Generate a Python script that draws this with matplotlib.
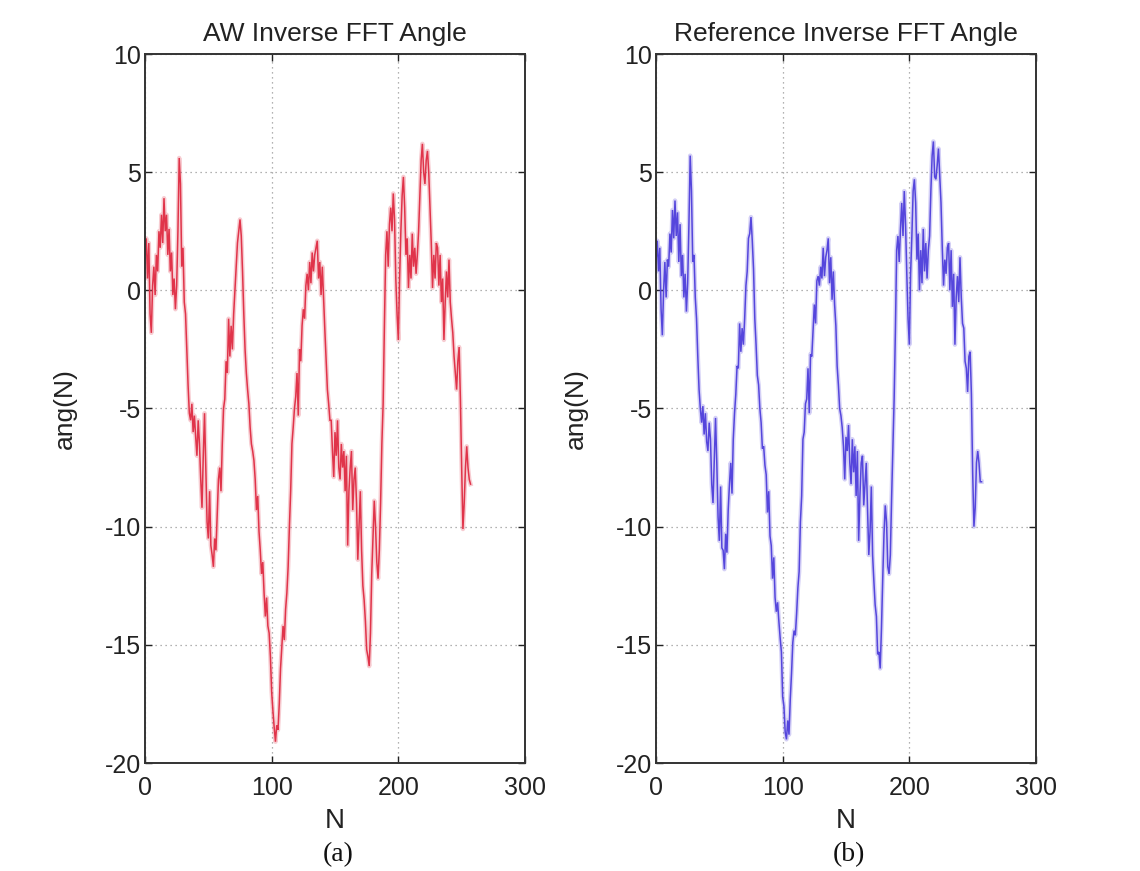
import matplotlib
matplotlib.use("Agg")
import matplotlib.pyplot as plt
import numpy as np

plt.rcParams['font.family'] = ['Liberation Sans', 'DejaVu Sans']

# ---- data ----
N = list(range(0, 258))

aw_angle = [
    1.5, 2.2, 0.5, 2.0, -1.0, -1.8, 0.2, 1.0, -0.2, 1.5,
    0.8, 2.5, 1.8, 3.2, 2.0, 3.9, 2.5, 3.2, 1.5, 2.6,
    0.8, 1.6, -0.2, 0.5, -0.8, 0.2, 2.5, 5.6, 4.5, 1.0,
    1.8, -0.5, -1.0, -2.5, -4.0, -5.2, -5.5, -4.8, -6.0, -5.3,
    -6.2, -7.0, -5.5, -6.5, -8.0, -9.2, -7.0, -5.2, -7.5, -9.8,
    -10.5, -8.5, -10.8, -11.2, -11.7, -10.5, -11.0, -9.5, -8.0, -7.5,
    -8.5, -6.5, -5.0, -4.6, -3.0, -3.5, -1.2, -2.8, -1.5, -2.5,
    -1.0, 0.0, 1.0, 2.0, 2.5, 3.0, 2.3, 0.8, -1.0, -2.5,
    -3.5, -4.2, -4.8, -5.8, -6.5, -6.8, -7.2, -8.0, -9.3, -8.7,
    -10.2, -11.0, -12.0, -11.5, -12.8, -13.8, -13.0, -14.2, -14.5, -15.5,
    -17.0, -17.8, -18.5, -19.1, -18.4, -18.6, -17.5, -16.0, -15.1, -14.2,
    -14.8, -13.5, -12.8, -11.7, -10.0, -8.5, -6.5, -5.8, -5.0, -4.5,
    -3.5, -5.3, -2.5, -3.0, -1.5, -0.8, -1.2, 0.2, 0.7, 0.0,
    1.2, 0.3, 1.6, 0.8, 1.5, 1.8, 2.1, 0.5, 1.2, -0.2,
    1.0, -0.4, -1.7, -3.0, -4.2, -4.8, -5.5, -5.5, -6.8, -7.9,
    -6.0, -7.0, -5.5, -7.5, -8.0, -6.5, -7.5, -6.8, -8.5, -7.0,
    -10.8, -8.5, -7.5, -6.8, -9.3, -8.0, -7.5, -9.0, -11.4, -10.0,
    -8.5, -11.0, -12.5, -13.1, -14.0, -15.2, -15.5, -15.9, -14.5, -12.0,
    -10.5, -8.9, -10.0, -11.5, -12.2, -11.0, -9.0, -6.5, -4.8, -1.5,
    1.5, 2.5, 1.0, 2.8, 3.5, 2.5, 4.1, 3.0, 0.5, -1.0,
    -2.1, 0.5, 2.5, 4.0, 4.8, 3.5, 1.5, 2.2, 0.1, 1.5,
    0.5, 2.4, 1.0, 1.8, 0.7, 1.5, 2.5, 4.0, 5.5, 6.2,
    5.0, 4.5, 5.5, 5.9, 5.0, 3.5, 2.0, 0.1, 1.5, 0.5,
    2.0, 1.8, 0.2, 1.5, -0.5, 0.5, -2.1, -0.5, 0.8, -0.3,
    1.3, -0.5, -1.2, -1.8, -2.8, -3.5, -4.2, -3.0, -2.4, -4.6,
    -7.5, -10.1, -9.0, -7.5, -6.6, -7.5, -8.0, -8.2,
]

ref_angle = [
    1.2, 2.1, 0.8, 1.8, -0.8, -1.9, 0.0, 1.2, -0.3, 1.3,
    1.0, 2.4, 1.6, 3.4, 2.2, 3.8, 2.3, 3.3, 1.2, 2.8,
    0.6, 1.5, -0.3, 0.7, -0.9, 0.3, 2.8, 5.7, 4.2, 1.2,
    1.5, -0.3, -1.2, -2.8, -4.2, -5.0, -5.6, -4.9, -6.1, -5.2,
    -6.4, -6.8, -5.6, -6.3, -8.2, -9.0, -7.2, -5.4, -7.3, -9.6,
    -10.6, -8.3, -10.9, -11.0, -11.8, -10.3, -11.1, -9.3, -8.2, -7.3,
    -8.6, -6.3, -5.2, -4.4, -3.2, -3.3, -1.4, -2.6, -1.6, -2.3,
    -1.2, 0.2, 0.8, 2.2, 2.4, 3.1, 2.1, 0.9, -1.2, -2.3,
    -3.6, -4.0, -5.0, -5.6, -6.7, -6.6, -7.4, -7.8, -9.4, -8.5,
    -10.4, -10.8, -12.2, -11.3, -13.0, -13.6, -13.2, -14.0, -14.7, -15.3,
    -17.2, -17.6, -18.7, -19.0, -18.2, -18.8, -17.3, -16.2, -14.9, -14.4,
    -14.6, -13.7, -12.6, -11.9, -9.8, -8.7, -6.3, -6.0, -4.8, -4.6,
    -3.3, -5.2, -2.7, -2.8, -1.7, -0.6, -1.4, 0.4, 0.6, 0.2,
    1.0, 0.5, 1.8, 0.6, 1.4, 1.7, 2.2, 0.3, 1.4, -0.4,
    0.8, -0.6, -1.5, -3.2, -4.0, -5.0, -5.3, -5.8, -6.6, -8.0,
    -6.2, -6.8, -5.7, -7.3, -8.2, -6.3, -7.7, -6.6, -8.7, -6.8,
    -10.6, -8.7, -7.3, -7.0, -9.1, -8.2, -7.3, -9.2, -11.2, -10.2,
    -8.3, -11.2, -12.3, -13.3, -13.8, -15.4, -15.3, -16.0, -14.3, -12.2,
    -10.3, -9.1, -9.8, -11.7, -12.0, -11.2, -8.8, -6.7, -4.6, -1.7,
    1.7, 2.3, 1.2, 2.6, 3.7, 2.3, 4.2, 2.8, 0.7, -1.2,
    -2.3, 0.7, 2.3, 4.2, 4.7, 3.7, 1.3, 2.4, 0.0, 1.7,
    0.3, 2.6, 0.8, 2.0, 0.5, 1.7, 2.3, 4.2, 5.7, 6.3,
    4.8, 4.7, 5.3, 6.0, 4.8, 3.7, 1.8, 0.2, 1.3, 0.7,
    1.8, 2.0, 0.0, 1.7, -0.7, 0.7, -2.3, -0.3, 0.6, -0.5,
    1.4, -0.3, -1.4, -1.6, -3.0, -3.3, -4.3, -2.8, -2.6, -4.4,
    -7.7, -10.0, -9.2, -7.3, -6.8, -7.3, -8.1, -8.1,
]

titles = ["AW Inverse FFT Angle", "Reference Inverse FFT Angle"]
captions = ["(a)", "(b)"]
xticks = [0, 100, 200, 300]
yticks = [-20, -15, -10, -5, 0, 5, 10]

W, H = 1140, 871
fig = plt.figure(figsize=(W / 100, H / 100), dpi=100)

panels = [
    (145, aw_angle, '#e0344a'),
    (656, ref_angle, '#5546dc'),
]

for i, (x0, ydata, col) in enumerate(panels):
    ax = fig.add_axes([x0 / W, 1 - 763 / H, 380 / W, (763 - 54) / H])
    ax.plot(N, ydata, color=col, lw=3.2, alpha=0.25, solid_joinstyle='round')
    ax.plot(N, ydata, color=col, lw=1.1, solid_joinstyle='miter')
    ax.set_xlim(0, 300)
    ax.set_ylim(-20, 10)
    ax.set_xticks(xticks)
    ax.set_yticks(yticks)
    ax.set_xticklabels([str(t) for t in xticks])
    ax.set_yticklabels([str(t) for t in yticks])
    ax.grid(True, linestyle=(0, (1, 3)), color='#999999', linewidth=0.9)
    ax.tick_params(direction='in', length=5, width=1, top=True, right=True,
                   labelsize=18, colors='#222222')
    ax.tick_params(axis='y', pad=3)
    ax.tick_params(axis='x', pad=9)
    for s in ax.spines.values():
        s.set_linewidth(1.4)
        s.set_color('#333333')
    ax.set_title(titles[i], fontsize=19, pad=9, color='#222222')
    ax.set_xlabel('N', fontsize=20, labelpad=6, color='#222222')
    ax.set_ylabel('ang(N)', fontsize=19, labelpad=20, color='#222222')
    fig.text((x0 + 193) / W, 1 - 855 / H, captions[i], ha='center', va='center',
             fontsize=20, family='Liberation Serif', color='#111111')

fig.savefig('out.png', dpi=100)
